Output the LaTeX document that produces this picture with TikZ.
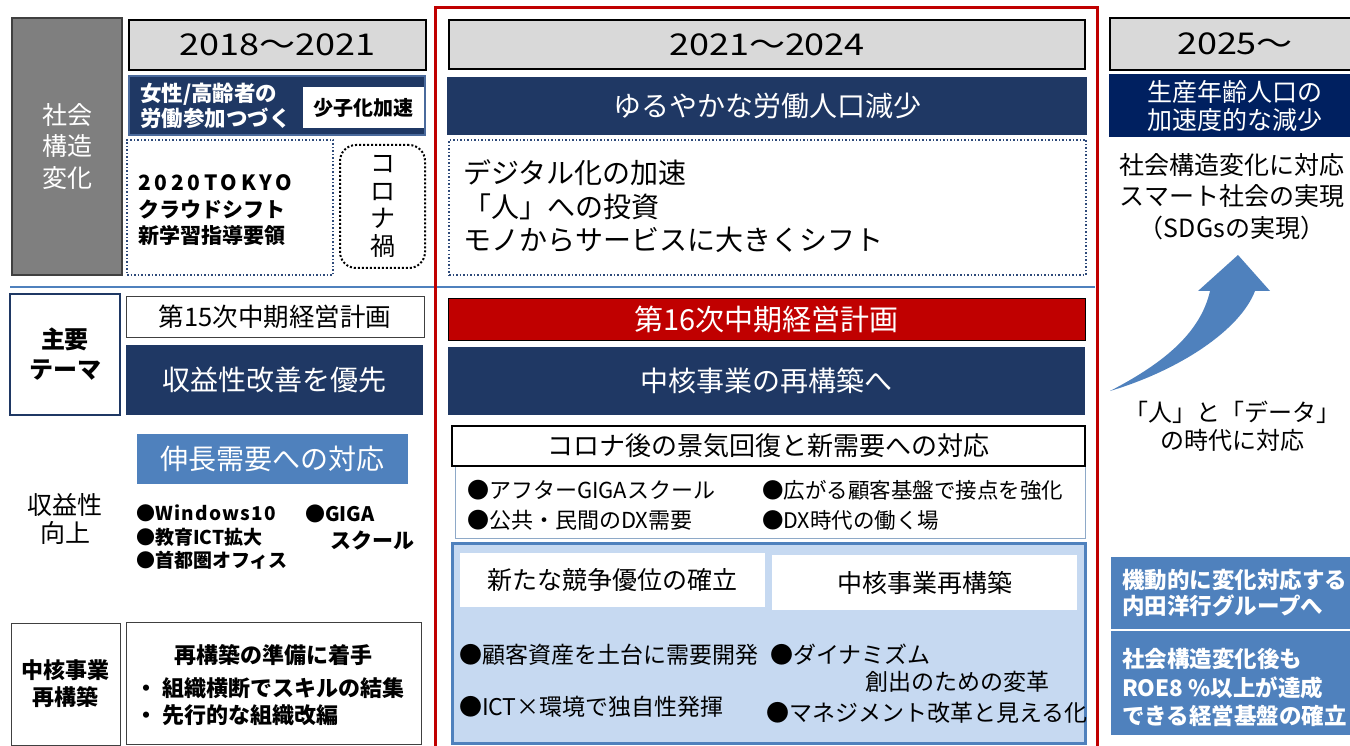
\documentclass[tikz,border=0pt]{standalone}
\usepackage{fontspec}
\setmainfont{Noto Sans CJK JP}
\newfontfamily\spaced[LetterSpace=18]{Noto Sans CJK JP}
\newfontfamily\spacedb[LetterSpace=7]{Noto Sans CJK JP}
\usepackage{graphicx}
\definecolor{navy}{HTML}{1F3864}
\definecolor{navyd}{HTML}{002060}
\definecolor{grayb}{HTML}{7F7F7F}
\definecolor{grayd}{HTML}{404040}
\definecolor{hdr}{HTML}{D9D9D9}
\definecolor{redc}{HTML}{C00000}
\definecolor{mblue}{HTML}{4F81BD}
\definecolor{lblue}{HTML}{C6D9F1}
\definecolor{dotb}{HTML}{2E4A7A}
\definecolor{navyedge}{HTML}{4A6A9C}
\definecolor{buledge}{HTML}{8EA9C8}
\newcommand\fsz[2]{\fontsize{#1}{#2}\selectfont}
\newcommand\hdtext[1]{\scalebox{1.2}[1]{#1}}
\tikzset{
  every node/.style={inner sep=0pt, outer sep=0pt},
  hdrbox/.style={draw=black, line width=1.5pt, fill=hdr, font=\fsz{30}{36}},
  navybox/.style={fill=navy, text=white},
  dotbox/.style={draw=dotb, dotted, line width=1.5pt},
  plainbox/.style={draw=grayd, line width=1pt, fill=white},
  bluebox/.style={fill=mblue, text=white},
}
\begin{document}
\begin{tikzpicture}[x=1pt,y=-1pt]
\useasboundingbox (0,0) rectangle (1350,746);
\clip (0,0) rectangle (1350,746);
\fill[white] (0,0) rectangle (1350,746);

% ---------- left column, top ----------
\node[draw=grayd, line width=2.5pt, fill=grayb, minimum width=110, minimum height=257,
      text=white, align=center, font=\fsz{25}{31.5}] (soc) at (67,146.5) {社会\\構造\\変化};
\node[hdrbox, minimum width=297, minimum height=50] (h1) at (277.5,45) {\hdtext{2018～2021}};
\node[navybox, draw=navyedge, line width=1.5pt, minimum width=296, minimum height=59] (nv1) at (277,105.5) {};
\node[anchor=west, align=left, text=white, font=\bfseries\fsz{21.5}{24.5}] (nv1t) at (140,106) {女性/高齢者の\\労働参加つづく};
\node[fill=white, minimum width=121, minimum height=41, font=\bfseries\fsz{20}{24}] (shoshi) at (363.5,107.5) {少子化加速};
\node[dotbox, minimum width=206, minimum height=135] (dot1) at (230,207.5) {};
\node[anchor=west, align=left, font=\bfseries\fsz{21}{26.5}] (dot1t) at (138,210.5) {{\spaced 2020TOKYO}\\クラウドシフト\\新学習指導要領};
\node[draw=black, dotted, line width=2pt, rounded corners=16pt, minimum width=85, minimum height=123,
      align=center, font=\fsz{25}{27.7}] (corona) at (382.5,206.5) {コ\\ロ\\ナ\\禍};

% ---------- middle column, top ----------
\node[hdrbox, minimum width=636, minimum height=49] (h2) at (767,44.5) {\hdtext{2021～2024}};
\node[navybox, minimum width=640, minimum height=58, font=\fsz{28}{32}] (nv2) at (767,106) {ゆるやかな労働人口減少};
\node[dotbox, minimum width=637, minimum height=135] (dot2) at (767.5,207.5) {};
\node[anchor=west, align=left, font=\fsz{28}{33.5}] (dot2t) at (463,206.5) {デジタル化の加速\\「人」への投資\\モノからサービスに大きくシフト};

% ---------- right column ----------
\node[hdrbox, minimum width=250, minimum height=52] (h3) at (1235,44) {\hdtext{2025～}};
\node[fill=navyd, text=white, minimum width=251, minimum height=63, align=center, font=\fsz{25}{28}] (nv3) at (1234.5,105.5) {生産年齢人口の\\加速度的な減少};
\node[align=center, font=\fsz{25}{31.5}] (smart) at (1232,196.5) {社会構造変化に対応\\スマート社会の実現\\（SDGsの実現）};
\fill[mblue] (1110,391) .. controls (1180,370) and (1240,330) .. (1255,291)
   -- (1270,291) -- (1238,255) -- (1198,291) -- (1210,291)
   .. controls (1200,335) and (1160,365) .. (1110,391) -- cycle;
\node[align=center, font=\fsz{24}{28}] (hito) at (1232,426) {「人」と「データ」\\の時代に対応};
\node[bluebox, minimum width=249, minimum height=72] (kido) at (1235.5,593) {};
\node[anchor=west, align=left, text=white, font=\bfseries\fsz{22.5}{26}] (kidot) at (1122,593) {機動的に変化対応する\\内田洋行グループへ};
\node[bluebox, minimum width=249, minimum height=104] (roe) at (1235.5,683) {};
\node[anchor=west, align=left, text=white, font=\bfseries\fsz{22.5}{28.5}] (roet) at (1122,687.5) {社会構造変化後も\\ROE8 \%以上が達成\\できる経営基盤の確立};

% ---------- divider ----------
\coordinate (dl) at (10,287);
\coordinate (dr) at (1095,287);
\draw[mblue, line width=2pt] (dl) -- (dr);

% ---------- left column, bottom ----------
\node[draw=navy, line width=2pt, fill=white, minimum width=110, minimum height=121,
      align=center, font=\bfseries\fsz{24}{30}] (shuyo) at (65,354.5) {主要\\テーマ};
\node[draw=grayd, line width=1pt, minimum width=298, minimum height=41, font=\fsz{25.5}{28}] (p15) at (275,316.5) {第15次中期経営計画};
\node[navybox, minimum width=297, minimum height=70, font=\fsz{28}{32}] (nv4) at (274.5,380) {収益性改善を優先};
\node[bluebox, minimum width=271, minimum height=50, font=\fsz{28}{32}] (shincho) at (272.5,459) {伸長需要への対応};
\node[align=center, font=\fsz{25}{28}] (shueki) at (65,519) {収益性\\向上};
\node[anchor=west, align=left, font=\bfseries\fsz{19}{23.5}] (bl1) at (136,537.5) {●{\spacedb Windows10}\\●教育ICT拡大\\●首都圏オフィス};
\node[anchor=west, font=\bfseries\fsz{20}{24}] (giga) at (305,514) {●GIGA};
\node[anchor=west, font=\bfseries\fsz{21}{24}] (giga2) at (330,540) {スクール};
\node[plainbox, minimum width=109, minimum height=122, align=center, font=\bfseries\fsz{22}{27}] (chukaku) at (65.5,684) {中核事業\\再構築};
\node[plainbox, minimum width=295, minimum height=122] (saik) at (273.5,683) {};
\node[font=\bfseries\fsz{22}{26}] (saikt) at (273,655) {再構築の準備に着手};
\node[anchor=west, align=left, font=\bfseries\fsz{22}{27}] (saikb) at (135,701.5) {・ 組織横断でスキルの結集\\・ 先行的な組織改編};

% ---------- middle column, bottom ----------
\node[fill=redc, draw=black, line width=1pt, text=white, minimum width=637, minimum height=42, font=\fsz{29}{32}] (p16) at (766.5,319) {第16次中期経営計画};
\node[navybox, minimum width=637, minimum height=68, font=\fsz{28}{32}] (nv5) at (766.5,381) {中核事業の再構築へ};
\node[draw=buledge, line width=1pt, fill=white, minimum width=630, minimum height=72] (bul) at (770,502) {};
\node[draw=black, line width=1.5pt, fill=white, minimum width=633, minimum height=40, font=\fsz{26}{30}] (cor2) at (768.5,446) {コロナ後の景気回復と新需要への対応};
\node[anchor=west, align=left, font=\fsz{22}{30}] (bul1) at (467,505) {●アフターGIGAスクール\\●公共・民間のDX需要};
\node[anchor=west, align=left, font=\fsz{21.5}{30}] (bul2) at (762,505) {●広がる顧客基盤で接点を強化\\●DX時代の働く場};
\node[fill=lblue, draw=mblue, line width=3pt, minimum width=633, minimum height=200] (lb) at (768.5,643) {};
\node[fill=white, minimum width=305, minimum height=54, font=\fsz{25}{30}] (w1) at (612.5,580) {新たな競争優位の確立};
\node[fill=white, minimum width=305, minimum height=55, font=\fsz{25}{30}] (w2) at (924.5,582.5) {中核事業再構築};
\node[anchor=west, font=\fsz{23}{27}] (lb1) at (459,655) {●顧客資産を土台に需要開発};
\node[anchor=west, font=\fsz{23}{27}] (lb2) at (459,707) {●ICT×環境で独自性発揮};
\node[anchor=west, font=\fsz{23}{27}] (lb3) at (770,655) {●ダイナミズム};
\node[anchor=west, font=\fsz{23}{27}] (lb4) at (865,682) {創出のための変革};
\node[anchor=west, font=\fsz{23}{27}] (lb5) at (766,713) {●マネジメント改革と見える化};

\draw[redc, line width=3pt] (435,760) -- (435,8) -- (1097,8) -- (1097,760);
\end{tikzpicture}
\end{document}
